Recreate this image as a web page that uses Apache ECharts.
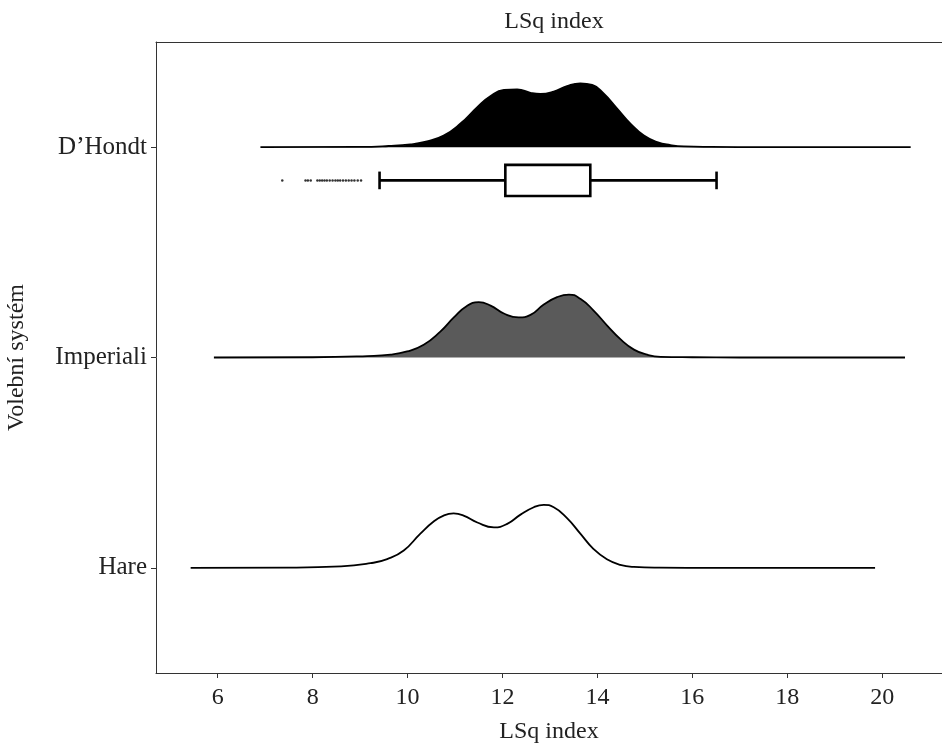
<!DOCTYPE html>
<html>
<head>
<meta charset="utf-8">
<title>LSq index</title>
<script src="https://cdn.jsdelivr.net/npm/echarts@6/dist/echarts.min.js"></script>
<style>
  html, body { margin: 0; padding: 0; background: #fff; }
  #main { width: 942px; height: 745px; }
</style>
</head>
<body>
<div id="main"></div>
<script>
// ridge categories, bottom to top
var systems = ['Hare', 'Imperiali', 'D\u2019Hondt'];
var xTicks = [6, 8, 10, 12, 14, 16, 18, 20];

// density estimates [LSq, density]
var hareDensity = [
  [5.43, 0], [7.5, 0.001], [8.6, 0.006], [9.22, 0.020], [9.57, 0.038], [9.92, 0.075],
  [10.27, 0.148], [10.55, 0.200], [10.76, 0.226], [10.97, 0.235], [11.18, 0.226],
  [11.47, 0.196], [11.82, 0.175], [12.10, 0.190], [12.38, 0.230], [12.66, 0.262],
  [12.87, 0.272], [13.08, 0.262], [13.36, 0.215], [13.64, 0.148], [13.92, 0.081],
  [14.20, 0.037], [14.48, 0.013], [14.77, 0.004], [15.3, 0.001], [16.5, 0], [19.85, 0]
];
var imperialiDensity = [
  [5.92, 0], [8.0, 0.001], [9.15, 0.006], [9.64, 0.012], [9.99, 0.026], [10.34, 0.055],
  [10.69, 0.112], [10.97, 0.172], [11.25, 0.223], [11.50, 0.239], [11.75, 0.224],
  [12.03, 0.190], [12.34, 0.173], [12.59, 0.184], [12.87, 0.229], [13.15, 0.261],
  [13.40, 0.272], [13.64, 0.254], [13.92, 0.203], [14.21, 0.137], [14.49, 0.078],
  [14.77, 0.034], [15.05, 0.012], [15.33, 0.003], [16.0, 0.001], [17.0, 0], [20.48, 0]
];
var dhondtDensity = [
  [6.9, 0], [9.0, 0.001], [9.6, 0.005], [10.06, 0.012], [10.41, 0.025], [10.76, 0.050],
  [11.11, 0.101], [11.47, 0.173], [11.75, 0.221], [12.03, 0.247], [12.31, 0.250],
  [12.59, 0.235], [12.80, 0.230], [13.08, 0.240], [13.36, 0.264], [13.64, 0.276],
  [13.89, 0.269], [14.13, 0.232], [14.42, 0.166], [14.70, 0.101], [14.98, 0.050],
  [15.26, 0.022], [15.54, 0.009], [15.82, 0.003], [16.4, 0.001], [17.5, 0], [20.6, 0]
];

// D'Hondt boxplot: lower whisker, q1, q3, upper whisker
var dhondtBox = [9.41, 12.06, 13.85, 16.51];
var dhondtOutliers = [
  7.36, 7.85, 7.90, 7.96, 8.10, 8.15, 8.20, 8.25, 8.30, 8.36, 8.42,
  8.48, 8.53, 8.58, 8.64, 8.70, 8.76, 8.82, 8.88, 8.95, 9.02
];

var RIDGE_SCALE = 1.1;   // y units per density unit
var BOX_Y = 2.842;       // where the boxplot sits
var FONT = '"Liberation Serif", "DejaVu Serif", serif';
var INK = '#222';

function ridge(dens, level) {
  return dens.map(function (p) { return [p[0], level + p[1] * RIDGE_SCALE]; });
}

function ridgeSeries(name, dens, level, fill) {
  return {
    name: name,
    type: 'line',
    xAxisIndex: 0,
    yAxisIndex: 0,
    data: ridge(dens, level),
    smooth: 0.5,
    symbol: 'none',
    lineStyle: { color: '#000', width: 1.8 },
    areaStyle: { color: fill, opacity: 1, origin: level },
    z: 3
  };
}

var chart = echarts.init(document.getElementById('main'));

chart.setOption({
  animation: false,
  textStyle: { fontFamily: FONT },
  title: {
    text: 'LSq index',
    left: 549,
    top: 5,
    textAlign: 'center',
    textStyle: { fontFamily: FONT, fontSize: 24, fontWeight: 'normal', color: INK }
  },
  grid: { left: 156, right: 0, top: 42, bottom: 72, outerBoundsMode: 'none', containLabel: false },
  xAxis: [
    {
      type: 'value',
      position: 'bottom',
      min: 4.7,
      max: 21.26,
      name: 'LSq index',
      nameLocation: 'middle',
      nameGap: 47,
      nameTextStyle: { fontFamily: FONT, fontSize: 24, color: INK },
      axisLine: { show: true, lineStyle: { color: '#333', width: 1 } },
      axisTick: { show: true, length: 5, customValues: xTicks, lineStyle: { color: '#333' } },
      axisLabel: { customValues: xTicks, fontFamily: FONT, fontSize: 24, color: INK, margin: 13 },
      splitLine: { show: false }
    },
    {
      type: 'value',
      position: 'top',
      min: 4.7,
      max: 21.26,
      axisLine: { show: true, lineStyle: { color: '#333', width: 1 } },
      axisTick: { show: false },
      axisLabel: { show: false },
      splitLine: { show: false }
    }
  ],
  yAxis: [
    {
      type: 'value',
      min: 0.5,
      max: 3.5,
      show: false
    },
    {
      type: 'category',
      position: 'left',
      data: systems,
      name: 'Volební systém',
      nameLocation: 'middle',
      nameRotate: 90,
      nameGap: 127,
      nameTextStyle: { fontFamily: FONT, fontSize: 24, color: INK },
      axisLine: { show: true, lineStyle: { color: '#333', width: 1 } },
      axisTick: { show: true, alignWithLabel: true, length: 5, lineStyle: { color: '#333' } },
      axisLabel: { fontFamily: FONT, fontSize: 25, color: INK, margin: 9 },
      splitLine: { show: false }
    }
  ],
  series: [
    ridgeSeries('Hare', hareDensity, 1, '#ffffff'),
    ridgeSeries('Imperiali', imperialiDensity, 2, '#5a5a5a'),
    ridgeSeries('D\u2019Hondt', dhondtDensity, 3, '#000000'),
    {
      type: 'custom',
      xAxisIndex: 0,
      yAxisIndex: 0,
      data: [[BOX_Y].concat(dhondtBox)],
      renderItem: function (params, api) {
        var y = api.value(0);
        var lo = api.coord([api.value(1), y]);
        var q1 = api.coord([api.value(2), y]);
        var q3 = api.coord([api.value(3), y]);
        var hi = api.coord([api.value(4), y]);
        var boxH = api.size([0, 0.148])[1];
        var capH = api.size([0, 0.084])[1];
        var st = { stroke: '#000', lineWidth: 2.6, fill: null };
        return {
          type: 'group',
          children: [
            { type: 'line', shape: { x1: lo[0], y1: lo[1], x2: q1[0], y2: q1[1] }, style: st },
            { type: 'line', shape: { x1: q3[0], y1: q3[1], x2: hi[0], y2: hi[1] }, style: st },
            { type: 'line', shape: { x1: lo[0], y1: lo[1] - capH / 2, x2: lo[0], y2: lo[1] + capH / 2 }, style: st },
            { type: 'line', shape: { x1: hi[0], y1: hi[1] - capH / 2, x2: hi[0], y2: hi[1] + capH / 2 }, style: st },
            {
              type: 'rect',
              shape: { x: q1[0], y: q1[1] - boxH / 2, width: q3[0] - q1[0], height: boxH },
              style: { stroke: '#000', lineWidth: 2.6, fill: '#fff' }
            }
          ]
        };
      },
      z: 4
    },
    {
      type: 'scatter',
      xAxisIndex: 0,
      yAxisIndex: 0,
      data: dhondtOutliers.map(function (v) { return [v, BOX_Y]; }),
      symbol: 'circle',
      symbolSize: 2.5,
      itemStyle: { color: '#000' },
      z: 4
    }
  ]
});
</script>
</body>
</html>
